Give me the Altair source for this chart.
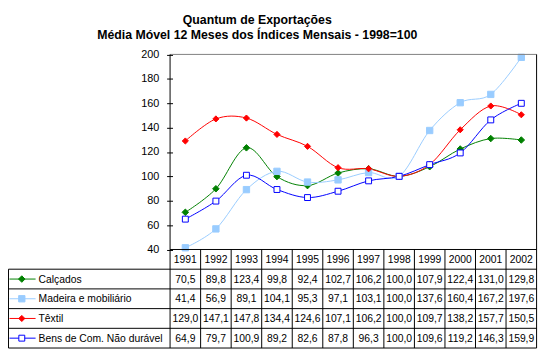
import altair as alt
import pandas as pd

years = [1991, 1992, 1993, 1994, 1995, 1996, 1997, 1998, 1999, 2000, 2001, 2002]
series = ["Calçados", "Madeira e mobiliário", "Têxtil", "Bens de Com. Não durável"]
calcados = [70.5, 89.8, 123.4, 99.8, 92.4, 102.7, 106.2, 100.0, 107.9, 122.4, 131.0, 129.8]
madeira = [41.4, 56.9, 89.1, 104.1, 95.3, 97.1, 103.1, 100.0, 137.6, 160.4, 167.2, 197.6]
textil = [129.0, 147.1, 147.8, 134.4, 124.6, 107.1, 106.2, 100.0, 109.7, 138.2, 157.7, 150.5]
bens = [64.9, 79.7, 100.9, 89.2, 82.6, 87.8, 96.3, 100.0, 109.6, 119.2, 146.3, 159.9]
y_ticks = [40, 60, 80, 100, 120, 140, 160, 180, 200]
title_lines = ["Quantum de Exportações", "Média Móvel 12 Meses dos Índices Mensais - 1998=100"]

line_colors = ["#008000", "#99CCFF", "#FF0000", "#0000FF"]
marker_fills = ["#008000", "#99CCFF", "#FF0000", "#FFFFFF"]
marker_shapes = ["diamond", "square", "diamond", "square"]
marker_sizes = [44, 36, 44, 30]

FONT = "Liberation Sans"
TFS = 10.5
W, H = 372, 198
ROW_H = 20

values = [calcados, madeira, textil, bens]
rows = []
for s, vals in zip(series, values):
    for yr, v in zip(years, vals):
        rows.append({"series": s, "year": yr, "value": v,
                     "label": f"{v:.1f}".replace(".", ",")})
df = pd.DataFrame(rows)

x_scale = alt.Scale(domain=[1990.5, 2002.5], range=[0.5, W + 0.5], nice=False, zero=False)
y_scale = alt.Scale(domain=[40, 200], range=[H + 0.5, 0.5], nice=False, zero=False)
y_axis = alt.Axis(title=None, grid=False, domain=False, ticks=True, tickSize=6,
                  tickColor="black", offset=-3, values=y_ticks, labelFont=FONT,
                  labelFontSize=11, labelColor="black", labelPadding=8)

x_enc = alt.X("year:Q", scale=x_scale, axis=None)
y_enc = alt.Y("value:Q", scale=y_scale, axis=y_axis)

stroke_enc = alt.Stroke("series:N", scale=alt.Scale(domain=series, range=line_colors), legend=None)
fill_enc = alt.Fill("series:N", scale=alt.Scale(domain=series, range=marker_fills), legend=None)
shape_enc = alt.Shape("series:N", scale=alt.Scale(domain=series, range=marker_shapes), legend=None)
size_enc = alt.Size("series:N", scale=alt.Scale(domain=series, range=marker_sizes), legend=None)

layers = []

# series lines and markers
layers.append(
    alt.Chart(df).mark_line(interpolate="cardinal", strokeWidth=1).encode(
        x=x_enc, y=y_enc,
        color=alt.Color("series:N", scale=alt.Scale(domain=series, range=line_colors), legend=None),
        detail="series:N",
    )
)
layers.append(
    alt.Chart(df).mark_point(filled=False, opacity=1, strokeWidth=1).encode(
        x=x_enc, y=y_enc, stroke=stroke_enc, fill=fill_enc, shape=shape_enc, size=size_enc,
    )
)

one = pd.DataFrame({"k": [0]})

def rule(x, x2, y, y2, color="black"):
    return alt.Chart(one).mark_rule(strokeWidth=1, color=color).encode(
        x=alt.value(x), x2=alt.value(x2), y=alt.value(y), y2=alt.value(y2))

table_left = -163.5
table_bottom = H + 0.5 + 5 * ROW_H

# frame: top (gray), axis line, right border
layers.append(rule(0.5, W + 0.5, 0.5, 0.5, "#808080"))
layers.append(rule(0.5, 0.5, 0.5, table_bottom))
layers.append(rule(W + 0.5, W + 0.5, 0.5, table_bottom))
# header top line (plot bottom)
layers.append(rule(0.5, W + 0.5, H + 0.5, H + 0.5))
# row lines
for i in range(1, 6):
    yy = H + 0.5 + i * ROW_H
    layers.append(rule(table_left, W + 0.5, yy, yy))
# table left border
layers.append(rule(table_left, table_left, H + 0.5 + ROW_H, table_bottom))

# column separators
edges = pd.DataFrame({"year": years[:-1]})
layers.append(
    alt.Chart(edges).transform_calculate(edge="datum.year + 0.5").mark_rule(
        strokeWidth=1, color="black").encode(
        x=alt.X("edge:Q", scale=x_scale, axis=None),
        y=alt.value(H + 0.5), y2=alt.value(table_bottom))
)

# header years
hdr = pd.DataFrame({"year": years, "label": [str(y) for y in years]})
layers.append(
    alt.Chart(hdr).mark_text(font=FONT, fontSize=TFS, color="black", baseline="middle").encode(
        x=x_enc, y=alt.value(H + 0.5 + ROW_H / 2 + 0.5), text="label:N")
)

# table rows
for i, s in enumerate(series):
    yc = H + 0.5 + ROW_H * (i + 1) + ROW_H / 2
    sub = df[df["series"] == s]
    layers.append(
        alt.Chart(sub).mark_text(font=FONT, fontSize=TFS, color="black", baseline="middle").encode(
            x=x_enc, y=alt.value(yc + 0.5), text="label:N")
    )
    layers.append(rule(-162.5, -136, yc, yc, line_colors[i]))
    leg = pd.DataFrame({"series": [s]})
    layers.append(
        alt.Chart(leg).mark_point(filled=False, opacity=1, strokeWidth=1).encode(
            x=alt.value(-150), y=alt.value(yc),
            stroke=stroke_enc, fill=fill_enc, shape=shape_enc, size=size_enc)
    )
    layers.append(
        alt.Chart(leg).mark_text(font=FONT, fontSize=TFS, color="black", baseline="middle",
                                 align="left").encode(
            x=alt.value(-133), y=alt.value(yc + 0.5), text="series:N")
    )

# title
for j, t in enumerate(title_lines):
    layers.append(
        alt.Chart(pd.DataFrame({"t": [t]})).mark_text(
            font=FONT, fontSize=12.5, fontWeight="bold", color="black",
            baseline="alphabetic", align="center").encode(
            x=alt.value(89), y=alt.value(-30 + 15 * j), text="t:N")
    )

chart = alt.layer(*layers).properties(
    width=W, height=H,
    autosize=alt.AutoSizeParams(type="none"),
    padding={"left": 164, "top": 44, "right": 6, "bottom": 107},
    background="white",
).configure_view(stroke=None)

chart.save("out.html", embed_options={"renderer": "svg", "actions": False})
